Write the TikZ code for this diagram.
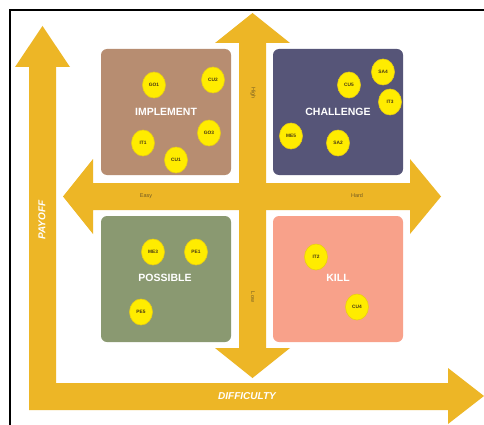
\documentclass[tikz,border=0pt]{standalone}
\usepackage{fontspec}
\setmainfont{Liberation Sans}
\usetikzlibrary{shapes.geometric}

\definecolor{axisgold}{RGB}{237,182,38}
\definecolor{implbrown}{RGB}{183,141,113}
\definecolor{challslate}{RGB}{86,85,120}
\definecolor{possgreen}{RGB}{138,153,113}
\definecolor{killsalmon}{RGB}{248,161,138}
\definecolor{dotyellow}{RGB}{255,236,0}
\definecolor{dotedge}{RGB}{232,205,20}
\definecolor{tagtext}{RGB}{70,55,20}
\definecolor{axislabel}{RGB}{115,92,35}

\tikzset{
  arrowbody/.style={fill=axisgold, draw=none},
  quadrant/.style={draw=none, rounded corners=6pt, minimum width=130pt,
                   minimum height=126pt, inner sep=0pt},
  quadtitle/.style={text=white, font=\bfseries\fontsize{10.5}{12}\selectfont},
  item/.style={ellipse, fill=dotyellow, draw=dotedge, line width=0.6pt,
               minimum width=23pt, minimum height=26pt, inner sep=0pt,
               text=tagtext, font=\bfseries\fontsize{4.8}{5}\selectfont},
  axistag/.style={text=axislabel, font=\fontsize{5.5}{6}\selectfont},
  axistitle/.style={text=white, font=\bfseries\itshape\fontsize{10}{12}\selectfont}
}

\begin{document}
\begin{tikzpicture}[x=1pt,y=-1pt]
\useasboundingbox (0,0) rectangle (484,425);
\fill[white] (0,0) rectangle (484,425);

% outer frame (top and left edges)
\draw[black, line width=1.3pt] (10,425) -- (10,10) -- (484,10);

% PAYOFF axis (vertical) and DIFFICULTY axis (horizontal)
\fill[arrowbody] (29,396) -- (29,67) -- (15,67) -- (42.5,26) -- (70,67)
  -- (56,67) -- (56,396) -- cycle;
\fill[arrowbody] (29,383) -- (448,383) -- (448,368) -- (484,396)
  -- (448,424) -- (448,410) -- (29,410) -- cycle;

% central cross: payoff high/low and difficulty easy/hard
\fill[arrowbody] (239,43) -- (215,43) -- (252.5,13) -- (290,43) -- (266,43)
  -- (266,348) -- (290,348) -- (252.5,378) -- (215,348) -- (239,348) -- cycle;
\fill[arrowbody] (93,183) -- (93,159) -- (63,196.5) -- (93,234) -- (93,210)
  -- (410,210) -- (410,234) -- (441,196.5) -- (410,159) -- (410,183) -- cycle;

% axis titles
\node[axistitle, rotate=90] (payoff) at (42,220) {PAYOFF};
\node[axistitle] (difficulty) at (247,396) {DIFFICULTY};

% cross labels
\node[axistag, rotate=-90] (high) at (253,93) {High};
\node[axistag, rotate=-90] (low) at (253,297) {Low};
\node[axistag] (easy) at (146,196) {Easy};
\node[axistag] (hard) at (357,196) {Hard};

% quadrants
\node[quadrant, fill=implbrown]  (implement) at (166,112) {};
\node[quadrant, fill=challslate] (challenge) at (338,112) {};
\node[quadrant, fill=possgreen]  (possible)  at (166,279) {};
\node[quadrant, fill=killsalmon] (kill)      at (338,279) {};

\node[quadtitle] (implt) at (166,112) {IMPLEMENT};
\node[quadtitle] (challt) at (338,112) {CHALLENGE};
\node[quadtitle] (posst) at (165,278) {POSSIBLE};
\node[quadtitle] (killt) at (338,278) {KILL};

% items in IMPLEMENT
\node[item] (go1) at (154,85)  {GO1};
\node[item] (cu2) at (213,80)  {CU2};
\node[item] (go3) at (209,133) {GO3};
\node[item] (it1) at (143,143) {IT1};
\node[item] (cu1) at (176,160) {CU1};

% items in CHALLENGE
\node[item] (cu5) at (349,85)  {CU5};
\node[item] (sa4) at (383,72)  {SA4};
\node[item] (it3) at (390,102) {IT3};
\node[item] (me5) at (291,136) {ME5};
\node[item] (sa2) at (338,143) {SA2};

% items in POSSIBLE
\node[item] (me3) at (153,252) {ME3};
\node[item] (pe1) at (196,252) {PE1};
\node[item] (pe5) at (141,312) {PE5};

% items in KILL
\node[item] (it2) at (316,257) {IT2};
\node[item] (cu4) at (357,307) {CU4};
\end{tikzpicture}
\end{document}
